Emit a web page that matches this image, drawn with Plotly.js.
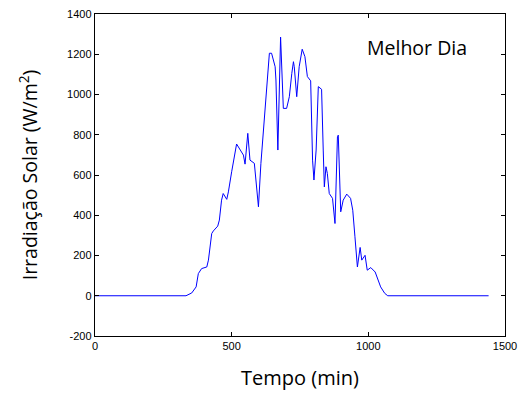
<!DOCTYPE html>
<html>
<head>
<meta charset="utf-8">
<script src="https://cdn.plot.ly/plotly-3.0.1.min.js"></script>
<style>html,body{margin:0;padding:0;background:#fff;}#chart{width:521px;height:400px;}</style>
</head>
<body>
<div id="chart"></div>
<script>
const tempo = [0, 100, 200, 300, 333, 354, 370, 378, 390, 409, 415, 427, 433, 449, 455, 463, 469, 482, 488, 500,
  518, 543, 549, 559, 567, 583, 598, 607, 622, 638, 646, 659, 662, 669, 679, 689, 701, 711, 720, 726, 729, 738, 747,
  758, 768, 777, 789, 796, 801, 809, 817, 829, 835, 839, 845, 850, 857, 869, 878, 887, 890, 894, 899, 908, 921, 935,
  943, 951, 960, 970, 976, 988, 996, 1009, 1025, 1045, 1060, 1071, 1200, 1300, 1440];
const irradiacao = [0, 0, 0, 0, 0, 14, 44, 110, 135, 143, 177, 309, 322, 346, 376, 475, 508, 479, 516, 616,
  754, 699, 654, 807, 674, 658, 442, 658, 906, 1205, 1205, 1138, 1072, 724, 1285, 931, 931, 989, 1105, 1163, 1138, 989, 1138,
  1225, 1188, 1089, 1068, 674, 575, 724, 1039, 1026, 724, 541, 641, 608, 508, 484, 359, 790, 798, 658, 417, 475, 505, 484,
  425, 293, 143, 240, 177, 201, 127, 140, 118, 44, 12, 0, 0, 0, 0];
const xTicks = [0, 500, 1000, 1500];
const yTicks = [-200, 0, 200, 400, 600, 800, 1000, 1200, 1400];

const trace = {x: tempo, y: irradiacao, type: 'scatter', mode: 'lines',
  line: {color: '#0000ff', width: 1}, hoverinfo: 'skip'};

const axisCommon = {showgrid: false, zeroline: false, showline: true, linecolor: '#000', linewidth: 1.2,
  mirror: 'ticks', ticks: 'inside', ticklen: 4, tickcolor: '#000', tickwidth: 1,
  tickfont: {family: 'Liberation Sans, Arial, sans-serif', size: 11, color: '#000'}};

const layout = {
  width: 521, height: 400,
  margin: {l: 95, r: 16, t: 14, b: 64},
  paper_bgcolor: '#fff', plot_bgcolor: '#fff',
  showlegend: false,
  xaxis: Object.assign({}, axisCommon, {range: [0, 1500], tickvals: xTicks, ticktext: xTicks.map(String),
    title: {text: 'Tempo (min)', font: {family: 'Open Sans, Noto Sans, sans-serif', size: 20, color: '#000'}, standoff: 19}}),
  yaxis: Object.assign({}, axisCommon, {range: [-200, 1400], tickvals: yTicks, ticktext: yTicks.map(String),
    title: {text: 'Irradiação Solar (W/m<sup>2</sup>)', font: {family: 'Open Sans, Noto Sans, sans-serif', size: 19.5, color: '#000'}, standoff: 24}}),
  annotations: [{text: 'Melhor Dia', xref: 'paper', yref: 'paper', x: 0.785, y: 0.895, xanchor: 'center', yanchor: 'middle',
    showarrow: false, font: {family: 'Open Sans, Noto Sans, sans-serif', size: 19.5, color: '#000'}}]
};

Plotly.newPlot('chart', [trace], layout, {displayModeBar: false, staticPlot: true});
</script>
</body>
</html>
